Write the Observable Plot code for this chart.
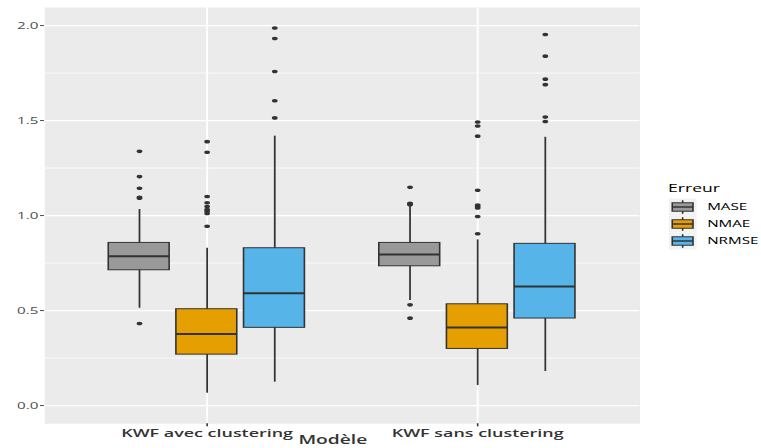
<!DOCTYPE html>
<html>
<head>
<meta charset="utf-8">
<script src="https://cdn.jsdelivr.net/npm/d3@7"></script>
<script src="https://cdn.jsdelivr.net/npm/@observablehq/plot@0.6"></script>
<style>
  html, body { margin: 0; padding: 0; background: #ffffff; overflow: hidden; }
  #wrap { position: relative; height: 448px; transform-origin: 0 0; font-family: "Open Sans", sans-serif; }
  #legend { position: absolute; left: 0; top: 0; pointer-events: none; }
</style>
</head>
<body>
<div id="wrap"></div>
<script>
// ---------- data ----------
const models = ["KWF avec clustering", "KWF sans clustering"];
const errors = ["MASE", "NMAE", "NRMSE"];
const fills = ["#999999", "#E69F00", "#56B4E9"];
const majorTicks = [0, 0.5, 1, 1.5, 2];
const minorTicks = [0.25, 0.75, 1.25, 1.75];

// box statistics, order: model-major (MASE, NMAE, NRMSE for each model)
const whiskerLow  = [0.512, 0.065, 0.123, 0.553, 0.105, 0.179];
const q1          = [0.712, 0.268, 0.409, 0.733, 0.298, 0.458];
const median      = [0.786, 0.377, 0.591, 0.795, 0.411, 0.626];
const q3          = [0.856, 0.507, 0.828, 0.856, 0.533, 0.851];
const whiskerHigh = [1.032, 0.828, 1.418, 1.050, 0.872, 1.412];
const outliers = [
  [1.338, 1.205, 1.144, 1.091, 1.096, 0.432],
  [1.389, 1.333, 1.100, 1.067, 1.047, 1.031, 1.023, 1.011, 0.944],
  [1.987, 1.932, 1.758, 1.604, 1.514],
  [1.149, 1.065, 1.061, 1.057, 0.530, 0.460],
  [1.492, 1.471, 1.418, 1.133, 1.055, 1.047, 1.040, 0.995, 0.904],
  [1.953, 1.839, 1.718, 1.689, 1.519, 1.495]
];

// ---------- layout ----------
const S = 1.6;               // horizontal stretch of the reference picture
const W = 761 / S;
const dodge = 0.25;
const half = 0.1125;

const boxes = [];
const outPts = [];
models.forEach((m, i) => errors.forEach((e, j) => {
  const k = i * errors.length + j;
  const pos = (i + 1) + (j - 1) * dodge;
  boxes.push({model: m, error: e, pos, lo: whiskerLow[k], q1: q1[k], med: median[k], q3: q3[k], hi: whiskerHigh[k]});
  outliers[k].forEach(v => outPts.push({model: m, error: e, pos, value: v}));
}));

const wrap = document.getElementById("wrap");
wrap.style.width = W + "px";
wrap.style.transform = `scaleX(${S})`;

const chart = Plot.plot({
  width: 400,
  height: 448,
  marginLeft: 27.5,
  marginRight: 0.5,
  marginTop: 7,
  marginBottom: 24.7,
  style: {fontFamily: "'Open Sans', sans-serif", background: "transparent", overflow: "visible"},
  x: {domain: [0.4, 2.6], axis: null},
  y: {domain: [-0.096, 2.095], axis: null},
  color: {domain: errors, range: fills},
  marks: [
    Plot.frame({fill: "#EBEBEB", stroke: "none"}),
    Plot.ruleY(minorTicks, {stroke: "#ffffff", strokeWidth: 0.6}),
    Plot.ruleY(majorTicks, {stroke: "#ffffff", strokeWidth: 1.3}),
    Plot.ruleX([1, 2], {stroke: "#ffffff", strokeWidth: 1.2}),
    Plot.ruleX(boxes, {x: "pos", y1: "lo", y2: "hi", stroke: "#333333", strokeWidth: 1.1}),
    Plot.rect(boxes, {x1: d => d.pos - half, x2: d => d.pos + half, y1: "q1", y2: "q3", fill: "error", stroke: "#333333", strokeWidth: 1}),
    Plot.ruleY(boxes, {y: "med", x1: d => d.pos - half, x2: d => d.pos + half, stroke: "#333333", strokeWidth: 2}),
    Plot.dot(outPts, {x: "pos", y: "value", r: 1.8, fill: "#333333", stroke: "none"}),
    Plot.axisY({ticks: majorTicks, tickFormat: d3.format(".1f"), tickSize: 2.5, tickPadding: 1.5, fontSize: 9.5, color: "#4D4D4D", label: null}),
    Plot.axisX({ticks: [1, 2], tickFormat: v => models[v - 1], tickSize: 3, tickPadding: 2.5, fontSize: 11.2, fontWeight: 600, color: "#333333", label: null}),
    Plot.text(["Modèle"], {frameAnchor: "bottom", dx: -6, dy: 20.5, fontSize: 12, fontWeight: 600, fill: "#333333"})
  ]
});
wrap.appendChild(chart);

// ---------- legend ----------
const lg = d3.select(wrap).append("svg")
  .attr("id", "legend")
  .attr("width", W).attr("height", 448)
  .style("font-family", "'Open Sans', sans-serif");
const g = lg.append("g").attr("transform", "translate(417.5,182)");
g.append("text").attr("x", 0).attr("y", 7).attr("dominant-baseline", "middle")
  .attr("font-size", 11).attr("fill", "#000").text("Erreur");
const kw = 17.3, kh = 17;
errors.forEach((e, i) => {
  const row = g.append("g").attr("transform", `translate(0.5,${16.5 + i * kh})`);
  row.append("rect").attr("width", kw).attr("height", kh).attr("fill", "#F2F2F2");
  row.append("line").attr("x1", kw / 2).attr("x2", kw / 2).attr("y1", kh * 0.1).attr("y2", kh * 0.9)
    .attr("stroke", "#333").attr("stroke-width", 1);
  row.append("rect").attr("x", kw * 0.125).attr("y", kh * 0.25).attr("width", kw * 0.75).attr("height", kh * 0.5)
    .attr("fill", fills[i]).attr("stroke", "#333").attr("stroke-width", 1);
  row.append("line").attr("x1", kw * 0.125).attr("x2", kw * 0.875).attr("y1", kh / 2).attr("y2", kh / 2)
    .attr("stroke", "#333").attr("stroke-width", 1.5);
  row.append("text").attr("x", 24).attr("y", kh / 2).attr("dominant-baseline", "middle")
    .attr("font-size", 9.5).attr("fill", "#000").text(e);
});
</script>
</body>
</html>
